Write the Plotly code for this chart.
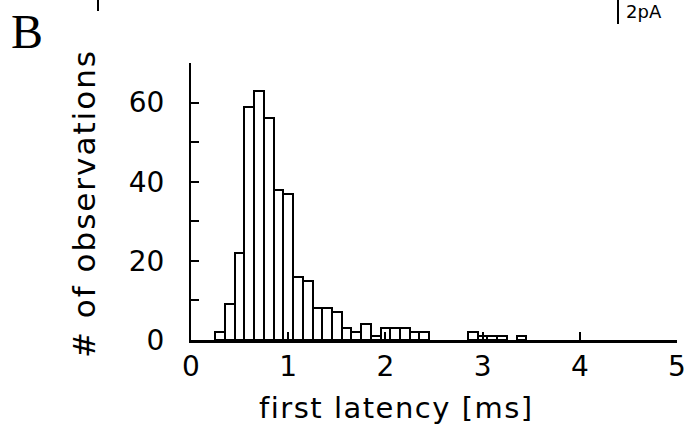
import plotly.graph_objects as go

# bin centres (ms) and counts
latency_ms = [0.3, 0.4, 0.5, 0.6, 0.7, 0.8, 0.9, 1.0, 1.1, 1.2, 1.3, 1.4, 1.5,
              1.6, 1.7, 1.8, 1.9, 2.0, 2.1, 2.2, 2.3, 2.4,
              2.9, 3.0, 3.1, 3.2, 3.4]
counts = [2, 9, 22, 59, 63, 56, 38, 37, 16, 15, 8, 8, 7,
          3, 2, 4, 1, 3, 3, 3, 2, 2,
          2, 1, 1, 1, 1]
x_ticks = [0, 1, 2, 3, 4, 5]
y_ticks = [0, 20, 40, 60]

FONT = "DejaVu Sans"

fig = go.Figure()
fig.add_trace(go.Bar(
    x=latency_ms, y=counts, width=0.1,
    marker=dict(color="white", line=dict(color="black", width=2)),
))

fig.update_layout(
    width=687, height=434,
    margin=dict(l=191, r=10, t=63, b=94, autoexpand=False),
    paper_bgcolor="white", plot_bgcolor="white",
    showlegend=False,
    bargap=0,
    font=dict(family=FONT, color="black"),
)

fig.update_xaxes(
    range=[0, 5], tickvals=x_ticks, ticktext=[str(v) for v in x_ticks],
    ticks="inside", ticklen=8, tickwidth=2, tickcolor="black",
    showline=True, linecolor="black", linewidth=2.5,
    showgrid=False, zeroline=False, automargin=False,
    tickfont=dict(family=FONT, size=28, color="black"),
    ticklabelstandoff=0,
)
fig.update_yaxes(
    range=[0, 70], tickvals=y_ticks, ticktext=[str(v) for v in y_ticks],
    ticks="inside", ticklen=8, tickwidth=2, tickcolor="black",
    minor=dict(tickvals=[10, 30, 50, 70], ticks="inside", ticklen=8,
               tickwidth=2, tickcolor="black"),
    showline=True, linecolor="black", linewidth=2,
    showgrid=False, zeroline=False, automargin=False,
    tickfont=dict(family=FONT, size=28, color="black"),
    ticklabelstandoff=19,
)

# axis titles as annotations
fig.add_annotation(
    text='<span style="letter-spacing:1.5px">first latency [ms]</span>',
    xref="paper", yref="paper", x=0.422, y=-0.245,
    xanchor="center", yanchor="middle", showarrow=False,
    font=dict(family=FONT, size=29, color="black"),
)
fig.add_annotation(
    text='<span style="letter-spacing:2px"># of observations</span>',
    xref="paper", yref="paper", x=-0.22, y=0.491, textangle=-90,
    xanchor="center", yanchor="middle", showarrow=False,
    font=dict(family=FONT, size=31, color="black"),
)
# panel letter
fig.add_annotation(
    text="B", xref="paper", yref="paper", x=-0.337, y=1.115,
    xanchor="center", yanchor="middle", showarrow=False,
    font=dict(family="Liberation Serif", size=48, color="black"),
)
# scale bar label from the panel above
fig.add_annotation(
    text="2pA", xref="paper", yref="paper", x=(624 - 191) / 486, y=(340 + 1) / 277,
    xanchor="left", yanchor="top", showarrow=False,
    font=dict(family=FONT, size=18, color="black"),
)
fig.add_shape(type="line", xref="paper", yref="paper",
              x0=(618 - 191) / 486, x1=(618 - 191) / 486,
              y0=(340 - 24) / 277, y1=(340 + 2) / 277,
              line=dict(color="black", width=2))
fig.add_shape(type="line", xref="paper", yref="paper",
              x0=(98 - 191) / 486, x1=(98 - 191) / 486,
              y0=(340 - 11) / 277, y1=(340 + 2) / 277,
              line=dict(color="black", width=2))

fig.write_html("out.html")
